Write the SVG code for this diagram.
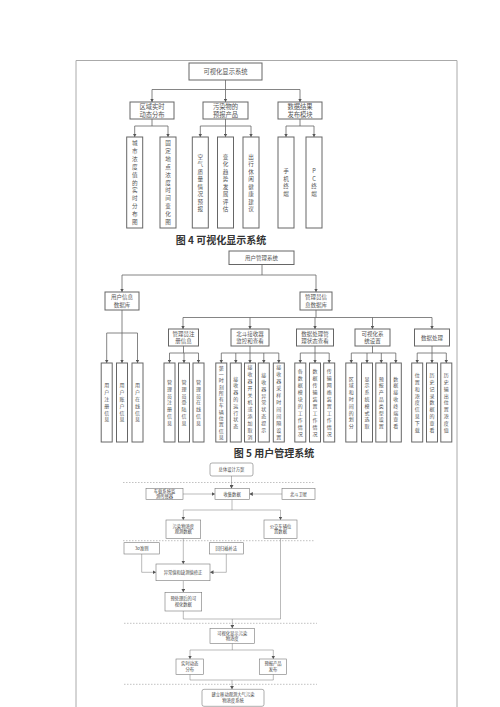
<svg xmlns="http://www.w3.org/2000/svg" width="500" height="707" viewBox="0 0 500 707">
<defs>
<marker id="ar" markerUnits="userSpaceOnUse" markerWidth="4" markerHeight="4" refX="3.5" refY="2" orient="auto"><path d="M0,0 L3.5,2 L0,4 Z" fill="#555"/></marker>
<style>
.b{fill:#fff;stroke:#666;stroke-width:1}
.b2{fill:#fff;stroke:#777;stroke-width:0.6}
.c{fill:none;stroke:#666;stroke-width:0.8}
.c2{fill:none;stroke:#777;stroke-width:0.5}
.d{fill:none;stroke:#999;stroke-width:0.6;stroke-dasharray:1.5,1.5}
.t7{font-family:"Noto Sans CJK SC",sans-serif;font-size:6.3px;fill:#555;text-anchor:middle}
.tv{font-family:"Noto Sans CJK SC",sans-serif;font-size:5.6px;fill:#555;text-anchor:middle}
.t6{font-family:"Noto Sans CJK SC",sans-serif;font-size:5.5px;fill:#555;text-anchor:middle}
.t5{font-family:"Noto Sans CJK SC",sans-serif;font-size:5px;fill:#555;text-anchor:middle}
.t4{font-family:"Noto Sans CJK SC",sans-serif;font-size:4.3px;fill:#444;text-anchor:middle}
.cap{font-family:"Noto Sans CJK SC",sans-serif;font-size:10px;font-weight:bold;fill:#333;text-anchor:middle}
</style>
</defs>
<rect width="500" height="707" fill="#fff"/>
<path d="M76 707V60.5H457V707" fill="none" stroke="#aaa" stroke-width="1"/>

<!-- Figure 4 -->
<g id="connectors4">
<path class="c" d="M225.5 80V89.5M152 89.5H300M134.7 126H168M152 119V126M225.5 119V126M200.3 126H251M300 119V126M286 126H314"/>
<g class="c" marker-end="url(#ar)">
<path d="M152 89.5V102"/><path d="M225.5 89.5V102"/><path d="M300 89.5V102"/>
<path d="M134.7 126V137"/><path d="M168 126V137"/><path d="M200.3 126V137"/><path d="M225.5 126V137"/><path d="M251 126V137"/><path d="M286 126V137"/><path d="M314 126V137"/>
</g>
</g>
<g id="f4root"><rect class="b" x="189" y="63" width="73" height="17"/><text class="t7" x="225.5" y="73.8">可视化显示系统</text></g>
<g id="f4a"><rect class="b" x="130" y="102" width="44" height="17"/><text class="t7" x="152" y="108.9">区域实时</text><text class="t7" x="152" y="116.6">动态分布</text></g>
<g id="f4b"><rect class="b" x="203" y="102" width="45" height="17"/><text class="t7" x="225.5" y="108.9">污染物的</text><text class="t7" x="225.5" y="116.6">预报产品</text></g>
<g id="f4c"><rect class="b" x="278" y="102" width="44" height="17"/><text class="t7" x="300" y="108.9">数据结果</text><text class="t7" x="300" y="116.6">发布模块</text></g>
<g id="f4l1"><rect class="b" x="126.7" y="137" width="16" height="91"/><text class="tv"><tspan x="134.7" y="145">城</tspan><tspan x="134.7" dy="7.9">市</tspan><tspan x="134.7" dy="7.9">浓</tspan><tspan x="134.7" dy="7.9">度</tspan><tspan x="134.7" dy="7.9">值</tspan><tspan x="134.7" dy="7.9">的</tspan><tspan x="134.7" dy="7.9">实</tspan><tspan x="134.7" dy="7.9">时</tspan><tspan x="134.7" dy="7.9">分</tspan><tspan x="134.7" dy="7.9">布</tspan><tspan x="134.7" dy="7.9">图</tspan></text></g>
<g id="f4l2"><rect class="b" x="160" y="137" width="16" height="91"/><text class="tv"><tspan x="168" y="145">固</tspan><tspan x="168" dy="7.9">定</tspan><tspan x="168" dy="7.9">地</tspan><tspan x="168" dy="7.9">点</tspan><tspan x="168" dy="7.9">浓</tspan><tspan x="168" dy="7.9">度</tspan><tspan x="168" dy="7.9">时</tspan><tspan x="168" dy="7.9">间</tspan><tspan x="168" dy="7.9">变</tspan><tspan x="168" dy="7.9">化</tspan><tspan x="168" dy="7.9">图</tspan></text></g>
<g id="f4l3"><rect class="b" x="192.3" y="137" width="16" height="91"/><text class="tv"><tspan x="200.3" y="158.5">空</tspan><tspan x="200.3" dy="7.5">气</tspan><tspan x="200.3" dy="7.5">质</tspan><tspan x="200.3" dy="7.5">量</tspan><tspan x="200.3" dy="7.5">情</tspan><tspan x="200.3" dy="7.5">况</tspan><tspan x="200.3" dy="7.5">预</tspan><tspan x="200.3" dy="7.5">报</tspan></text></g>
<g id="f4l4"><rect class="b" x="217.5" y="137" width="16" height="91"/><text class="tv"><tspan x="225.5" y="158.5">变</tspan><tspan x="225.5" dy="7.5">化</tspan><tspan x="225.5" dy="7.5">趋</tspan><tspan x="225.5" dy="7.5">势</tspan><tspan x="225.5" dy="7.5">发</tspan><tspan x="225.5" dy="7.5">展</tspan><tspan x="225.5" dy="7.5">评</tspan><tspan x="225.5" dy="7.5">估</tspan></text></g>
<g id="f4l5"><rect class="b" x="243" y="137" width="16" height="91"/><text class="tv"><tspan x="251" y="158.5">出</tspan><tspan x="251" dy="7.5">行</tspan><tspan x="251" dy="7.5">休</tspan><tspan x="251" dy="7.5">闲</tspan><tspan x="251" dy="7.5">健</tspan><tspan x="251" dy="7.5">康</tspan><tspan x="251" dy="7.5">建</tspan><tspan x="251" dy="7.5">议</tspan></text></g>
<g id="f4l6"><rect class="b" x="278" y="137" width="16" height="91"/><text class="tv"><tspan x="286" y="173.2">手</tspan><tspan x="286" dy="7.5">机</tspan><tspan x="286" dy="7.5">终</tspan><tspan x="286" dy="7.5">端</tspan></text></g>
<g id="f4l7"><rect class="b" x="306" y="137" width="16" height="91"/><text class="tv"><tspan x="314" y="173.2">P</tspan><tspan x="314" dy="7.5">C</tspan><tspan x="314" dy="7.5">终</tspan><tspan x="314" dy="7.5">端</tspan></text></g>
<text class="cap" x="221" y="244">图 4 可视化显示系统</text>

<!-- Figure 5 -->
<g id="connectors5">
<path class="c" d="M262 264.5V275M122 275H316M122 310V333M106.7 333H137.5M316 310V317.5M183 317.5H432M183.5 346V353M169.5 353H198.5M250 346V353M221.3 353H278.8M315 346V353M300.3 353H329.2M372.5 346V353M351.3 353H395.8M432 346V353M417.2 353H446.3"/>
<g class="c" marker-end="url(#ar)">
<path d="M122 275V292"/><path d="M316 275V292"/>
<path d="M106.7 333V363"/><path d="M122 333V363"/><path d="M137.5 333V363"/>
<path d="M183 317.5V329"/><path d="M250 317.5V329"/><path d="M315 317.5V329"/><path d="M372.5 317.5V329"/><path d="M432 317.5V329"/>
<path d="M169.5 353V363"/><path d="M184 353V363"/><path d="M198.5 353V363"/>
<path d="M221.3 353V363"/><path d="M235.8 353V363"/><path d="M250 353V363"/><path d="M263.8 353V363"/><path d="M278.8 353V363"/>
<path d="M300.3 353V363"/><path d="M315 353V363"/><path d="M329.2 353V363"/>
<path d="M351.3 353V363"/><path d="M367 353V363"/><path d="M381.3 353V363"/><path d="M395.8 353V363"/>
<path d="M417.2 353V363"/><path d="M432 353V363"/><path d="M446.3 353V363"/>
</g>
</g>
<g id="f5root"><rect class="b" x="229" y="251" width="65" height="13.5"/><text class="t6" x="261.5" y="259.8">用户管理系统</text></g>
<g id="f5u"><rect class="b" x="105" y="292" width="34" height="18"/><text class="t6" x="122" y="299.3">用户信息</text><text class="t6" x="122" y="306.6">数据库</text></g>
<g id="f5m"><rect class="b" x="300" y="292" width="32" height="18"/><text class="t6" x="316" y="299.3">管理员信</text><text class="t6" x="316" y="306.6">息数据库</text></g>
<g id="f5p1"><rect class="b" x="168.5" y="329" width="30" height="17"/><text class="t6" x="183.5" y="335.9">管理员注</text><text class="t6" x="183.5" y="343.1">册信息</text></g>
<g id="f5p2"><rect class="b" x="231" y="329" width="38" height="17"/><text class="t6" x="250" y="335.9">北斗接收器</text><text class="t6" x="250" y="343.1">监控和查看</text></g>
<g id="f5p3"><rect class="b" x="296.5" y="329" width="37" height="17"/><text class="t6" x="315" y="335.9">数据处理管</text><text class="t6" x="315" y="343.1">理状态查看</text></g>
<g id="f5p4"><rect class="b" x="355" y="329" width="35" height="17"/><text class="t6" x="372.5" y="335.9">可视化系</text><text class="t6" x="372.5" y="343.1">统设置</text></g>
<g id="f5p5"><rect class="b" x="414.5" y="329" width="35" height="17"/><text class="t6" x="432" y="339.5">数据处理</text></g>

<g id="u1"><rect class="b" x="101.2" y="363" width="11" height="79"/><text class="t5"><tspan x="106.7" y="387.3">用</tspan><tspan x="106.7" dy="6.8">户</tspan><tspan x="106.7" dy="6.8">注</tspan><tspan x="106.7" dy="6.8">册</tspan><tspan x="106.7" dy="6.8">信</tspan><tspan x="106.7" dy="6.8">息</tspan></text></g>
<g id="u2"><rect class="b" x="116.5" y="363" width="11" height="79"/><text class="t5"><tspan x="122" y="387.3">用</tspan><tspan x="122" dy="6.8">户</tspan><tspan x="122" dy="6.8">账</tspan><tspan x="122" dy="6.8">户</tspan><tspan x="122" dy="6.8">信</tspan><tspan x="122" dy="6.8">息</tspan></text></g>
<g id="u3"><rect class="b" x="132" y="363" width="11" height="79"/><text class="t5"><tspan x="137.5" y="387.3">用</tspan><tspan x="137.5" dy="6.8">户</tspan><tspan x="137.5" dy="6.8">在</tspan><tspan x="137.5" dy="6.8">线</tspan><tspan x="137.5" dy="6.8">信</tspan><tspan x="137.5" dy="6.8">息</tspan></text></g>
<g id="a1"><rect class="b" x="164" y="363" width="11" height="79"/><text class="t5"><tspan x="169.5" y="383.9">管</tspan><tspan x="169.5" dy="6.8">理</tspan><tspan x="169.5" dy="6.8">员</tspan><tspan x="169.5" dy="6.8">注</tspan><tspan x="169.5" dy="6.8">册</tspan><tspan x="169.5" dy="6.8">信</tspan><tspan x="169.5" dy="6.8">息</tspan></text></g>
<g id="a2"><rect class="b" x="178.5" y="363" width="11" height="79"/><text class="t5"><tspan x="184" y="383.9">管</tspan><tspan x="184" dy="6.8">理</tspan><tspan x="184" dy="6.8">员</tspan><tspan x="184" dy="6.8">登</tspan><tspan x="184" dy="6.8">陆</tspan><tspan x="184" dy="6.8">信</tspan><tspan x="184" dy="6.8">息</tspan></text></g>
<g id="a3"><rect class="b" x="193" y="363" width="11" height="79"/><text class="t5"><tspan x="198.5" y="383.9">管</tspan><tspan x="198.5" dy="6.8">理</tspan><tspan x="198.5" dy="6.8">员</tspan><tspan x="198.5" dy="6.8">在</tspan><tspan x="198.5" dy="6.8">线</tspan><tspan x="198.5" dy="6.8">信</tspan><tspan x="198.5" dy="6.8">息</tspan></text></g>
<g id="b1"><rect class="b" x="215.8" y="363" width="11" height="79"/><text class="t5"><tspan x="221.3" y="369.6">第</tspan><tspan x="221.3" dy="6.3">一</tspan><tspan x="221.3" dy="6.3">时</tspan><tspan x="221.3" dy="6.3">刻</tspan><tspan x="221.3" dy="6.3">所</tspan><tspan x="221.3" dy="6.3">有</tspan><tspan x="221.3" dy="6.3">车</tspan><tspan x="221.3" dy="6.3">辆</tspan><tspan x="221.3" dy="6.3">位</tspan><tspan x="221.3" dy="6.3">置</tspan><tspan x="221.3" dy="6.3">信</tspan><tspan x="221.3" dy="6.3">息</tspan></text></g>
<g id="b2"><rect class="b" x="230.3" y="363" width="11" height="79"/><text class="t5"><tspan x="235.8" y="380.5">接</tspan><tspan x="235.8" dy="6.8">收</tspan><tspan x="235.8" dy="6.8">器</tspan><tspan x="235.8" dy="6.8">的</tspan><tspan x="235.8" dy="6.8">运</tspan><tspan x="235.8" dy="6.8">行</tspan><tspan x="235.8" dy="6.8">状</tspan><tspan x="235.8" dy="6.8">态</tspan></text></g>
<g id="b3"><rect class="b" x="244.5" y="363" width="11" height="79"/><text class="t5"><tspan x="250" y="369.3">接</tspan><tspan x="250" dy="7">收</tspan><tspan x="250" dy="7">器</tspan><tspan x="250" dy="7">开</tspan><tspan x="250" dy="7">关</tspan><tspan x="250" dy="7">机</tspan><tspan x="250" dy="7">或</tspan><tspan x="250" dy="7">添</tspan><tspan x="250" dy="7">加</tspan><tspan x="250" dy="7">取</tspan><tspan x="250" dy="7">消</tspan></text></g>
<g id="b4"><rect class="b" x="258.3" y="363" width="11" height="79"/><text class="t5"><tspan x="263.8" y="377.1">接</tspan><tspan x="263.8" dy="6.8">收</tspan><tspan x="263.8" dy="6.8">器</tspan><tspan x="263.8" dy="6.8">异</tspan><tspan x="263.8" dy="6.8">常</tspan><tspan x="263.8" dy="6.8">状</tspan><tspan x="263.8" dy="6.8">态</tspan><tspan x="263.8" dy="6.8">提</tspan><tspan x="263.8" dy="6.8">示</tspan></text></g>
<g id="b5"><rect class="b" x="273.3" y="363" width="11" height="79"/><text class="t5"><tspan x="278.8" y="369.3">接</tspan><tspan x="278.8" dy="7">收</tspan><tspan x="278.8" dy="7">器</tspan><tspan x="278.8" dy="7">采</tspan><tspan x="278.8" dy="7">样</tspan><tspan x="278.8" dy="7">时</tspan><tspan x="278.8" dy="7">间</tspan><tspan x="278.8" dy="7">间</tspan><tspan x="278.8" dy="7">隔</tspan><tspan x="278.8" dy="7">设</tspan><tspan x="278.8" dy="7">置</tspan></text></g>
<g id="c1"><rect class="b" x="294.8" y="363" width="11" height="79"/><text class="t5"><tspan x="300.3" y="372.8">各</tspan><tspan x="300.3" dy="7">数</tspan><tspan x="300.3" dy="7">据</tspan><tspan x="300.3" dy="7">模</tspan><tspan x="300.3" dy="7">块</tspan><tspan x="300.3" dy="7">的</tspan><tspan x="300.3" dy="7">工</tspan><tspan x="300.3" dy="7">作</tspan><tspan x="300.3" dy="7">情</tspan><tspan x="300.3" dy="7">况</tspan></text></g>
<g id="c2"><rect class="b" x="309.5" y="363" width="11" height="79"/><text class="t5"><tspan x="315" y="372.8">数</tspan><tspan x="315" dy="7">据</tspan><tspan x="315" dy="7">传</tspan><tspan x="315" dy="7">输</tspan><tspan x="315" dy="7">装</tspan><tspan x="315" dy="7">置</tspan><tspan x="315" dy="7">工</tspan><tspan x="315" dy="7">作</tspan><tspan x="315" dy="7">情</tspan><tspan x="315" dy="7">况</tspan></text></g>
<g id="c3"><rect class="b" x="323.7" y="363" width="11" height="79"/><text class="t5"><tspan x="329.2" y="372.8">传</tspan><tspan x="329.2" dy="7">输</tspan><tspan x="329.2" dy="7">网</tspan><tspan x="329.2" dy="7">络</tspan><tspan x="329.2" dy="7">装</tspan><tspan x="329.2" dy="7">置</tspan><tspan x="329.2" dy="7">工</tspan><tspan x="329.2" dy="7">作</tspan><tspan x="329.2" dy="7">情</tspan><tspan x="329.2" dy="7">况</tspan></text></g>
<g id="d1"><rect class="b" x="345.8" y="363" width="11" height="79"/><text class="t5"><tspan x="351.3" y="380.5">区</tspan><tspan x="351.3" dy="6.8">域</tspan><tspan x="351.3" dy="6.8">和</tspan><tspan x="351.3" dy="6.8">时</tspan><tspan x="351.3" dy="6.8">间</tspan><tspan x="351.3" dy="6.8">的</tspan><tspan x="351.3" dy="6.8">划</tspan><tspan x="351.3" dy="6.8">分</tspan></text></g>
<g id="d2"><rect class="b" x="361.5" y="363" width="11" height="79"/><text class="t5"><tspan x="367" y="380.5">显</tspan><tspan x="367" dy="6.8">示</tspan><tspan x="367" dy="6.8">系</tspan><tspan x="367" dy="6.8">统</tspan><tspan x="367" dy="6.8">模</tspan><tspan x="367" dy="6.8">式</tspan><tspan x="367" dy="6.8">选</tspan><tspan x="367" dy="6.8">取</tspan></text></g>
<g id="d3"><rect class="b" x="375.8" y="363" width="11" height="79"/><text class="t5"><tspan x="381.3" y="380.5">预</tspan><tspan x="381.3" dy="6.8">报</tspan><tspan x="381.3" dy="6.8">产</tspan><tspan x="381.3" dy="6.8">品</tspan><tspan x="381.3" dy="6.8">类</tspan><tspan x="381.3" dy="6.8">型</tspan><tspan x="381.3" dy="6.8">设</tspan><tspan x="381.3" dy="6.8">置</tspan></text></g>
<g id="d4"><rect class="b" x="390.3" y="363" width="11" height="79"/><text class="t5"><tspan x="395.8" y="380.5">数</tspan><tspan x="395.8" dy="6.8">据</tspan><tspan x="395.8" dy="6.8">接</tspan><tspan x="395.8" dy="6.8">收</tspan><tspan x="395.8" dy="6.8">终</tspan><tspan x="395.8" dy="6.8">端</tspan><tspan x="395.8" dy="6.8">查</tspan><tspan x="395.8" dy="6.8">看</tspan></text></g>
<g id="e1"><rect class="b" x="411.7" y="363" width="11" height="79"/><text class="t5"><tspan x="417.2" y="377.1">位</tspan><tspan x="417.2" dy="6.8">置</tspan><tspan x="417.2" dy="6.8">和</tspan><tspan x="417.2" dy="6.8">浓</tspan><tspan x="417.2" dy="6.8">度</tspan><tspan x="417.2" dy="6.8">信</tspan><tspan x="417.2" dy="6.8">息</tspan><tspan x="417.2" dy="6.8">下</tspan><tspan x="417.2" dy="6.8">载</tspan></text></g>
<g id="e2"><rect class="b" x="426.5" y="363" width="11" height="79"/><text class="t5"><tspan x="432" y="377.1">历</tspan><tspan x="432" dy="6.8">史</tspan><tspan x="432" dy="6.8">记</tspan><tspan x="432" dy="6.8">录</tspan><tspan x="432" dy="6.8">数</tspan><tspan x="432" dy="6.8">据</tspan><tspan x="432" dy="6.8">的</tspan><tspan x="432" dy="6.8">查</tspan><tspan x="432" dy="6.8">看</tspan></text></g>
<g id="e3"><rect class="b" x="440.8" y="363" width="11" height="79"/><text class="t5"><tspan x="446.3" y="377.1">历</tspan><tspan x="446.3" dy="6.8">史</tspan><tspan x="446.3" dy="6.8">输</tspan><tspan x="446.3" dy="6.8">出</tspan><tspan x="446.3" dy="6.8">位</tspan><tspan x="446.3" dy="6.8">置</tspan><tspan x="446.3" dy="6.8">浓</tspan><tspan x="446.3" dy="6.8">度</tspan><tspan x="446.3" dy="6.8">值</tspan></text></g>
<text class="cap" x="274" y="456.5">图 5 用户管理系统</text>

<!-- Figure 6 -->
<g id="dashes6">
<path class="d" d="M123 482.5H315M123 540.7H315M124 623.3H317M124 684.3H317"/>
</g>
<g id="connectors6">
<path class="c2" d="M232 499.5V510M183.3 510H280.5M141.7 554V572.3M226.3 554V572.3M280.5 538V619H183.3V611M232.3 643.3V650M190 650H273.3M190 674.3V680H273.3V674.3"/>
<g class="c2" marker-end="url(#ar)">
<path d="M231.5 476V488.5"/><path d="M183 494H215"/><path d="M282 494H249.3"/>
<path d="M183.3 510V520"/><path d="M280.5 510V520"/>
<path d="M183.3 538.3V564"/><path d="M141.7 572.3H156"/><path d="M226.3 572.3H210"/>
<path d="M183.3 580.7V592.3"/><path d="M232.3 619V628.3"/>
<path d="M190 650V659"/><path d="M273.3 650V659"/><path d="M232 680V689.3"/>
</g>
</g>
<g id="n_plan"><rect class="b2" x="210" y="463" width="43" height="13" rx="2"/><text class="t4" x="231.5" y="471.1">总体设计方案</text></g>
<g id="n_car"><rect class="b2" x="146" y="488.5" width="37" height="11"/><text class="t4" x="164.5" y="492.9">车载系统监</text><text class="t4" x="164.5" y="498.1">测传感器</text></g>
<g id="n_collect"><rect class="b2" x="215" y="488.5" width="34.3" height="11"/><text class="t4" x="232.1" y="495.5">收集数据</text></g>
<g id="n_bd"><rect class="b2" x="282" y="488.5" width="33" height="11"/><text class="t4" x="298.5" y="495.5">北斗卫星</text></g>
<g id="n_pol"><rect class="b2" x="166" y="520" width="34.7" height="18.3"/><text class="t4" x="183.3" y="527.6">污染物浓度</text><text class="t4" x="183.3" y="533.4">观测数据</text></g>
<g id="n_bus"><rect class="b2" x="264" y="520" width="33" height="18.3"/><text class="t4" x="280.5" y="527.6">公交车辆位</text><text class="t4" x="280.5" y="533.4">置数据</text></g>
<g id="n_3s"><rect class="b2" x="124" y="542.7" width="35.3" height="11.3"/><text class="t4" x="141.7" y="549.9">3σ准则</text></g>
<g id="n_reg"><rect class="b2" x="209.3" y="542.7" width="34" height="11.3"/><text class="t4" x="226.3" y="549.9">回归插补法</text></g>
<g id="n_fix"><rect class="b2" x="156" y="564" width="54" height="16.7"/><text class="t4" x="183" y="573.9">异常值和缺测值修正</text></g>
<g id="n_pre"><rect class="b2" x="165" y="592.3" width="36.7" height="18.7"/><text class="t4" x="183.3" y="600.2">预处理后的可</text><text class="t4" x="183.3" y="606">视化数据</text></g>
<g id="n_vis"><rect class="b2" x="210" y="628.3" width="44.3" height="15"/><text class="t4" x="232.2" y="634.6">可视化显示污染</text><text class="t4" x="232.2" y="640.2">物浓度</text></g>
<g id="n_rt"><rect class="b2" x="176" y="659" width="27.3" height="15.3"/><text class="t4" x="189.7" y="665.4">实时动态</text><text class="t4" x="189.7" y="671">分布</text></g>
<g id="n_fc"><rect class="b2" x="259.3" y="659" width="27.4" height="15.3"/><text class="t4" x="273" y="665.4">预报产品</text><text class="t4" x="273" y="671">发布</text></g>
<g id="n_sys"><rect class="b2" x="202" y="689.3" width="62" height="17" rx="2"/><text class="t4" x="233" y="696.3">建立移动观测大气污染</text><text class="t4" x="233" y="702.3">物浓度系统</text></g>
</svg>
